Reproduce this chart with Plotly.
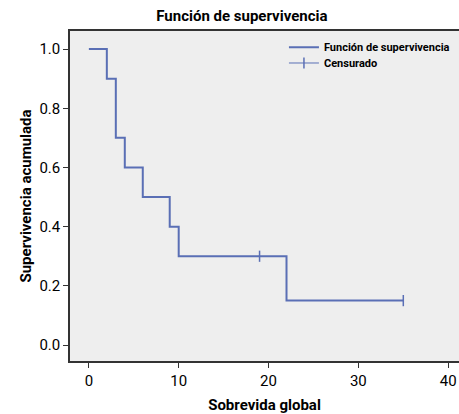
import plotly.graph_objects as go

# Kaplan-Meier step data
times = [0, 2, 3, 4, 6, 9, 10, 22, 35]
surv = [1.0, 0.9, 0.7, 0.6, 0.5, 0.4, 0.3, 0.15, 0.15]
cens_times = [19, 35]
cens_surv = [0.3, 0.15]

x_ticks = [0, 10, 20, 30, 40]
y_ticks = [0.0, 0.2, 0.4, 0.6, 0.8, 1.0]

FONT = "Roboto, Liberation Sans, sans-serif"
COLOR = "#5a6fb5"

fig = go.Figure()
fig.add_trace(go.Scatter(
    x=times, y=surv, mode="lines", line=dict(color=COLOR, width=2, shape="hv"),
    name="Función de supervivencia", legend="legend"))
fig.add_trace(go.Scatter(
    x=cens_times, y=cens_surv, mode="markers",
    marker=dict(symbol="line-ns", size=8, line=dict(color=COLOR, width=1.5)),
    name="Censurado", showlegend=False))
fig.add_trace(go.Scatter(
    x=[None], y=[None], mode="lines+markers",
    line=dict(color=COLOR, width=1),
    marker=dict(symbol="line-ns", size=8, line=dict(color=COLOR, width=1.5)),
    name="Censurado", showlegend=True, legend="legend2"))

leg_common = dict(xanchor="left", yanchor="top", bgcolor="rgba(0,0,0,0)",
                  font=dict(size=11, family=FONT, weight="bold"), itemwidth=30)

fig.update_layout(
    width=459, height=414,
    margin=dict(l=70, r=0, t=31, b=53),
    paper_bgcolor="white", plot_bgcolor="#eeeeee",
    font=dict(family=FONT, size=15, color="black"),
    title=dict(text="Función de supervivencia", x=0.527, xanchor="center",
               y=0.975, yanchor="top", font=dict(size=15, family=FONT, weight="bold")),
    showlegend=True,
    legend=dict(x=0.55, y=0.995, **leg_common),
    legend2=dict(x=0.55, y=0.947, **leg_common),
    xaxis=dict(range=[-2.1, 41.2], tickvals=x_ticks, showgrid=False, zeroline=False,
               showline=True, linecolor="#333", linewidth=1.5, mirror=True,
               ticks="outside", ticklen=5, tickcolor="#333", automargin=False,
               title=dict(text="Sobrevida global", standoff=12, font=dict(size=15, weight="bold"))),
    yaxis=dict(range=[-0.054, 1.061], tickvals=y_ticks, tickformat=".1f",
               showgrid=False, zeroline=False,
               showline=True, linecolor="#333", linewidth=1.5, mirror=False,
               ticks="outside", ticklen=5, tickcolor="#333", automargin=False,
               title=dict(text="Supervivencia acumulada", standoff=4, font=dict(size=15, weight="bold"))),
)

fig.write_html("out.html", config={"displayModeBar": False},
               post_script="document.body.style.margin='0px';")
